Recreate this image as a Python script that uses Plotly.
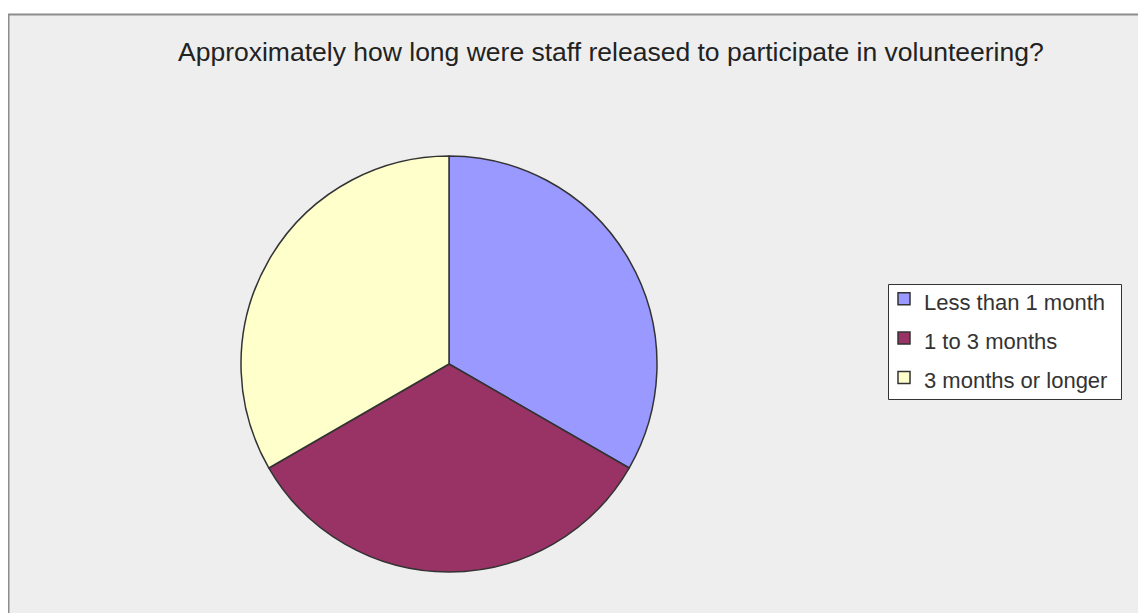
import plotly.graph_objects as go

# page has an 8px body margin; figure coordinates are page - 8
W, H = 1138, 605
categories = ["Less than 1 month", "1 to 3 months", "3 months or longer"]
values = [1, 1, 1]
colors = ["#9999FF", "#993366", "#FFFFCC"]
title_text = "Approximately how long were staff released to participate in volunteering?"

legend_labels = ['<span style="font-size:22px">%s</span>' % c for c in categories]

fig = go.Figure(go.Pie(
    labels=legend_labels,
    values=values,
    sort=False,
    direction="clockwise",
    rotation=0,
    textinfo="none",
    hoverinfo="percent",
    marker=dict(colors=colors, line=dict(color="#333333", width=1.5)),
    domain=dict(x=[233 / W, 649 / W], y=[1 - 564 / H, 1 - 148 / H]),
))

fig.update_layout(
    width=W, height=H,
    margin=dict(l=0, r=0, t=0, b=0),
    paper_bgcolor="white",
    plot_bgcolor="white",
    font=dict(family="Liberation Sans, Arial, sans-serif", color="#333333"),
    shapes=[
        dict(type="rect", xref="paper", yref="paper",
             x0=0.5 / W, x1=1.05, y0=-0.05, y1=1 - 6.5 / H,
             fillcolor="#EEEEEE", line=dict(color="#8c8c8c", width=2), layer="below"),
        dict(type="rect", xref="paper", yref="paper",
             x0=880.5 / W, x1=1113.5 / W, y0=1 - 391.5 / H, y1=1 - 276.5 / H,
             fillcolor="white", line=dict(color="#333333", width=1), layer="below"),
    ],
    annotations=[dict(text=title_text, x=603 / W, y=1 - 44 / H, xref="paper", yref="paper",
                      xanchor="center", yanchor="middle", showarrow=False,
                      font=dict(size=26.5, color="#222222"))],
    legend=dict(x=876 / W, y=1 - 266 / H, xanchor="left", yanchor="top",
                bgcolor="rgba(0,0,0,0)", borderwidth=0,
                itemwidth=30,
                font=dict(size=28, color="#333333"), tracegroupgap=0),
)
fig.write_html("out.html")
